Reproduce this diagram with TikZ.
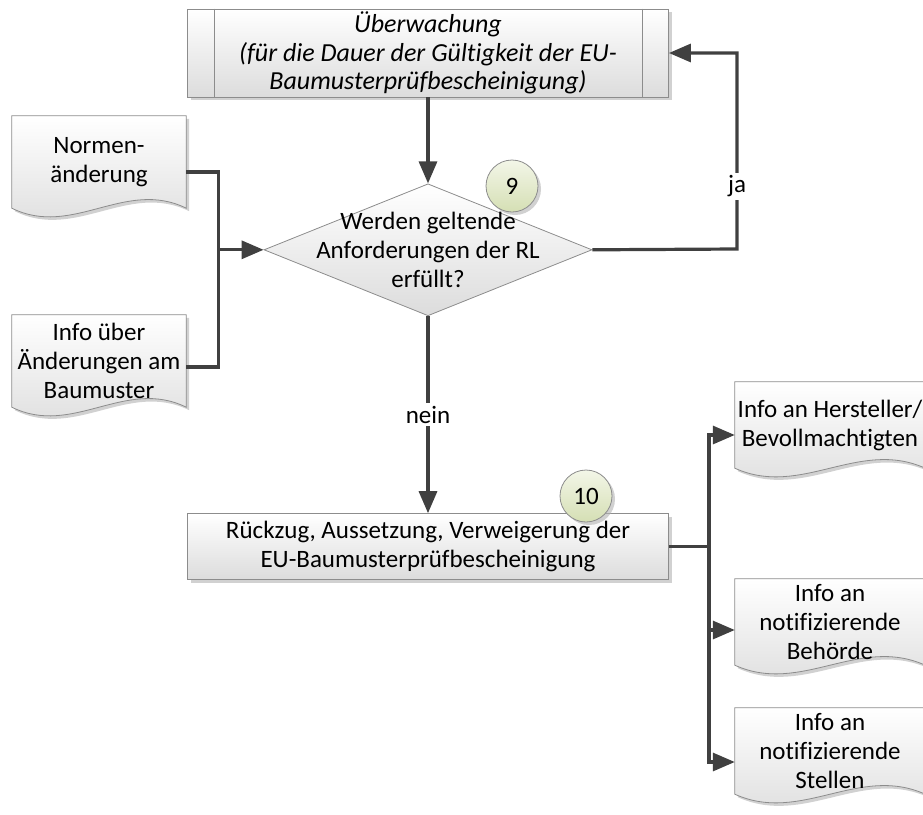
\documentclass[tikz,border=0pt]{standalone}
\usepackage{fontspec}
\setmainfont[Ligatures=NoCommon]{Carlito}
\usetikzlibrary{shapes.geometric,arrows.meta,positioning,backgrounds,shadows,calc}

\definecolor{linegray}{HTML}{404040}
\definecolor{framegray}{HTML}{8C8C8C}
\definecolor{fillgray}{HTML}{DCDCDC}
\definecolor{stepgreen}{HTML}{D5DFB4}
\definecolor{steplight}{HTML}{F3F6E8}

% document shape with wavy bottom, drawn round a named node
\newcommand{\docshape}[1]{%
  \fill[black!30, opacity=0.6] ($(#1.north west)+(3pt,-3pt)$) -- ($(#1.north east)+(3pt,-3pt)$)
    -- ($(#1.south east)+(3pt,-3pt)$)
    .. controls ($(#1.south east)!0.35!(#1.south west)+(3pt,27pt)$)
    and ($(#1.south east)!0.65!(#1.south west)+(3pt,-33pt)$) .. ($(#1.south west)+(3pt,-3pt)$) -- cycle;
  \draw[shaded] (#1.north west) -- (#1.north east) -- (#1.south east)
    .. controls ($(#1.south east)!0.35!(#1.south west)+(0pt,30pt)$)
    and ($(#1.south east)!0.65!(#1.south west)+(0pt,-30pt)$) .. (#1.south west) -- cycle;
}

\begin{document}
\begin{tikzpicture}[
    x=1pt, y=-1pt,
    font=\fontsize{25}{29}\selectfont,
    shaded/.style={top color=white, bottom color=fillgray, draw=framegray, line width=0.8pt},
    box/.style={shaded, rectangle, minimum width=481pt, align=center, inner sep=1pt,
        drop shadow={shadow xshift=3pt, shadow yshift=-3pt, fill=black!30, opacity=0.6}},
    decision/.style={shaded, diamond, minimum width=328pt, minimum height=132pt, inner sep=0pt},
    stepcircle/.style={circle, minimum size=52pt, inner sep=0pt, draw=framegray, line width=0.8pt,
        top color=steplight, bottom color=stepgreen,
        drop shadow={shadow xshift=3pt, shadow yshift=-3pt, fill=black!30, opacity=0.6}},
    doc/.style={minimum height=92pt, align=center, inner sep=0pt},
    link/.style={draw=linegray, line width=3.2pt},
    arrow/.style={link, -{Triangle[length=22pt,width=18pt]}},
    tag/.style={fill=white, inner sep=3pt}
]
    \useasboundingbox (0,0) rectangle (923,814);

    % main column
    \node[box, minimum height=88pt, font=\fontsize{26}{28.5}\selectfont\itshape] (watch) at (428,53)
        {Überwachung\\(für die Dauer der Gültigkeit der EU-\\Baumusterprüfbescheinigung)};
    \draw[framegray, line width=0.8pt] ([xshift=27pt]watch.north west) -- ([xshift=27pt]watch.south west);
    \draw[framegray, line width=0.8pt] ([xshift=-27pt]watch.north east) -- ([xshift=-27pt]watch.south east);
    \node[decision, below=86pt of watch] (check) {};
    \node[align=center] (checktext) at (check) {Werden geltende\\Anforderungen der RL\\erfüllt?};
    \node[box, minimum height=66pt, below=197pt of check] (recall)
        {Rückzug, Aussetzung, Verweigerung der\\EU-Baumusterprüfbescheinigung};
    \node[stepcircle] (n9) at (512,186) {9};
    \node[stepcircle] (n10) at (586,496) {10};

    % documents
    \node[doc, minimum width=174pt] (norm) at (99,162) {Normen-\\änderung};
    \node[doc, minimum width=174pt] (info) at (99,361) {Info über\\Änderungen am\\Baumuster};
    \node[doc, minimum width=190pt, minimum height=86pt] (herst) at (830,425) {Info an Hersteller/\\Bevollmachtigten};
    \node[doc, minimum width=190pt, minimum height=86pt] (behoerde) at (830,622) {Info an\\notifizierende\\Behörde};
    \node[doc, minimum width=190pt, minimum height=86pt] (stellen) at (830,751) {Info an\\notifizierende\\Stellen};
    \begin{scope}[on background layer]
        \foreach \d in {norm,info,herst,behoerde,stellen} {\docshape{\d}}
    \end{scope}

    % connectors
    \draw[arrow] (watch) -- (check);
    \draw[arrow] (check.south) -- node[tag] (nein) {nein} (recall.north);
    \coordinate (jaturn) at (737,249);
    \draw[arrow] (check.east) -- (jaturn) |- node[tag, pos=0.16] (ja) {ja} (watch.east);
    \draw[link] ([yshift=-10pt]norm.east) -- ++(32,0) coordinate (bus) |- ([yshift=-6pt]info.east);
    \draw[arrow] (bus |- check.west) -- (check.west);
    \draw[link] (recall.east) -- ++(40,0) coordinate (fork);
    \draw[arrow] (fork) |- ([yshift=-10pt]herst.west);
    \draw[arrow] (fork) |- ([yshift=-8pt]behoerde.west);
    \draw[arrow] (fork) |- ([yshift=-11pt]stellen.west);
\end{tikzpicture}
\end{document}
